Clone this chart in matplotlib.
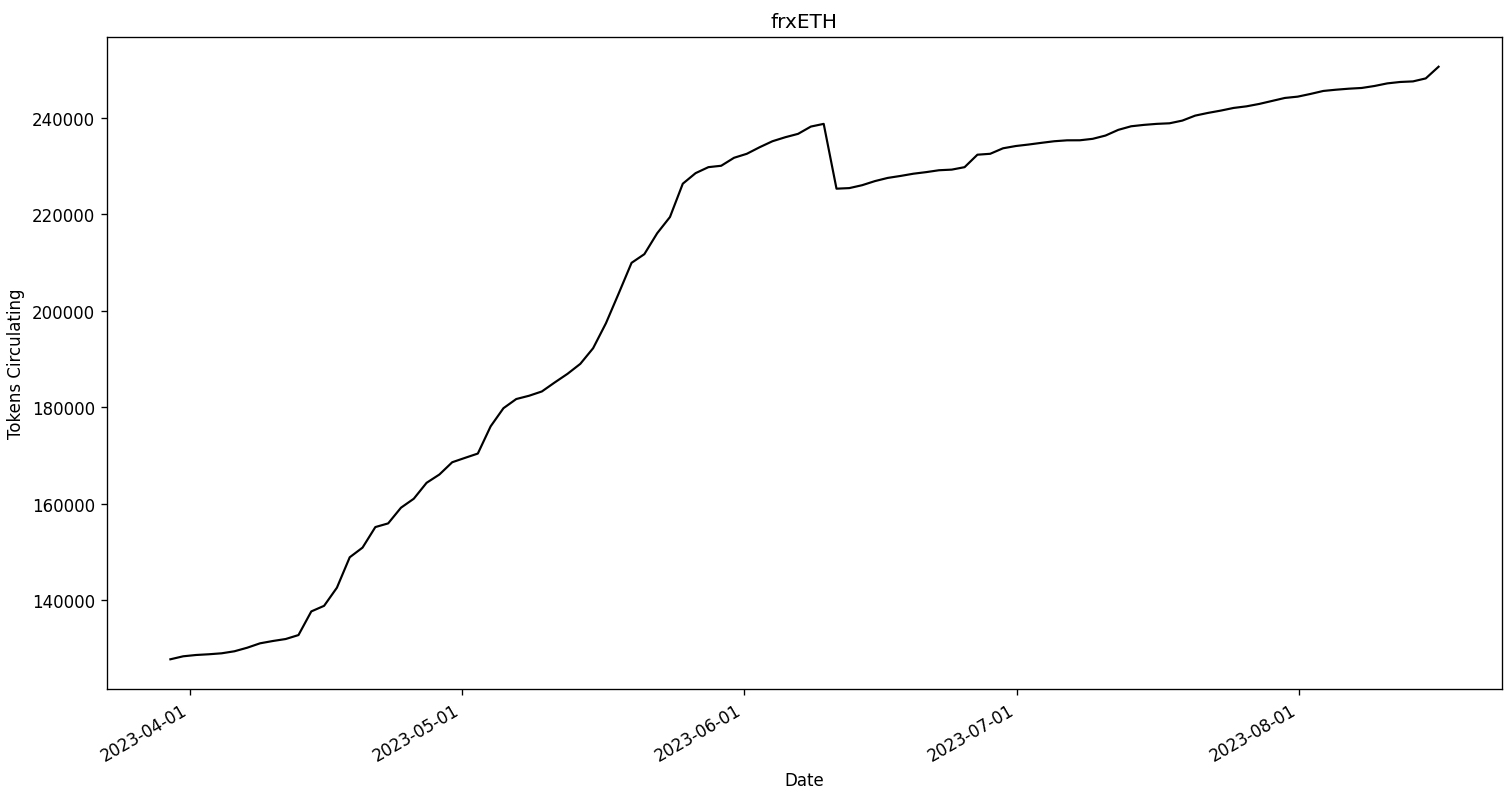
import matplotlib
matplotlib.use("Agg")
import matplotlib.pyplot as plt
import matplotlib.dates as mdates
import pandas as pd

# frxETH tokens circulating, sampled roughly every 1.4 days
start_date = "2023-03-29 21:00"
end_date = "2023-08-16 08:30"
tokens = [
    127750, 128370, 128640, 128790, 128990, 129410, 130150, 131060, 131540, 131950,
    132770, 137670, 138830, 142590, 148890, 150890, 155150, 155910, 159160, 161020,
    164320, 166040, 168580, 169490, 170380, 176020, 179780, 181680, 182360, 183250,
    185110, 186900, 188970, 192210, 197380, 203580, 209900, 211700, 216030, 219400,
    226300, 228490, 229730, 230020, 231670, 232500, 233860, 235100, 235930, 236630,
    238140, 238700, 225270, 225390, 225990, 226840, 227500, 227910, 228370, 228700,
    229090, 229220, 229730, 232310, 232500, 233640, 234110, 234420, 234770, 235100,
    235290, 235300, 235600, 236280, 237460, 238200, 238490, 238700, 238820, 239380,
    240410, 240970, 241450, 242000, 242330, 242830, 243450, 244070, 244340, 244900,
    245520, 245780, 245990, 246140, 246550, 247090, 247380, 247500, 248120, 250540,
]
dates = pd.date_range(start_date, end_date, periods=len(tokens))

fig, ax = plt.subplots(figsize=(12.592, 6.608), dpi=120)
ax.plot(dates, tokens, color="black", linewidth=1.3)

ax.set_title("frxETH")
ax.set_xlabel("Date")
ax.set_ylabel("Tokens Circulating")

ax.xaxis.set_major_locator(mdates.MonthLocator())
ax.xaxis.set_major_formatter(mdates.DateFormatter("%Y-%m-%d"))
fig.autofmt_xdate()

fig.subplots_adjust(left=0.0708, right=0.994, top=0.952, bottom=0.130)
fig.savefig("out.png", dpi=120)
plt.close(fig)
